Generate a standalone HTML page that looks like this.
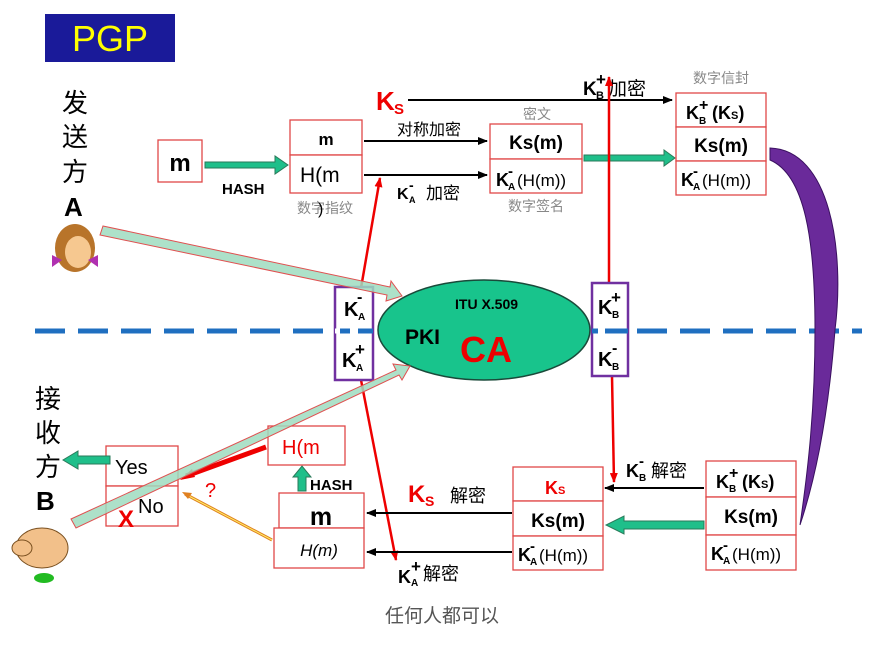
<!DOCTYPE html>
<html><head><meta charset="utf-8"><style>
html,body{margin:0;padding:0;background:#fff;width:870px;height:653px;overflow:hidden}
svg{display:block}
text{font-family:"Liberation Sans","Noto Sans CJK SC",sans-serif}
.b{font-weight:bold}
.bx{fill:#fff;stroke:#e04848;stroke-width:1.3}
.g{fill:#888}
</style></head><body>
<svg width="870" height="653" viewBox="0 0 870 653" xmlns="http://www.w3.org/2000/svg">
<defs>
<marker id="ab" markerWidth="10" markerHeight="8" refX="9" refY="4" orient="auto" markerUnits="userSpaceOnUse"><path d="M0,0L10,4L0,8z" fill="#000"/></marker>
<marker id="ar" markerWidth="10" markerHeight="8" refX="9" refY="4" orient="auto" markerUnits="userSpaceOnUse"><path d="M0,0L10,4L0,8z" fill="#e00"/></marker>
</defs>
<!-- PGP -->
<rect x="45" y="14" width="130" height="48" fill="#1a1a99"/>
<text x="110" y="51" font-size="36" fill="#ffff00" text-anchor="middle">PGP</text>
<!-- sender -->
<g font-size="26" fill="#000">
<text x="62" y="112">发</text><text x="62" y="146">送</text><text x="62" y="181">方</text>
<text x="64" y="216" class="b">A</text>
<text x="35" y="408">接</text><text x="35" y="442">收</text><text x="35" y="476">方</text>
<text x="36" y="510" class="b">B</text>
</g>
<!-- person A -->
<ellipse cx="75" cy="248" rx="20" ry="24" fill="#b8742a"/>
<ellipse cx="78" cy="252" rx="13" ry="16" fill="#f6c890"/>
<path d="M52,255l10,5l-10,7z M98,255l-10,5l10,7z" fill="#b030b0"/>
<!-- person B -->
<ellipse cx="42" cy="548" rx="26" ry="20" fill="#f2c08a" stroke="#7a5020"/>
<ellipse cx="22" cy="548" rx="10" ry="8" fill="#f2c08a" stroke="#7a5020"/>
<ellipse cx="44" cy="578" rx="10" ry="5" fill="#22bb22"/>
<!-- dashed line -->
<line x1="35" y1="331" x2="862" y2="331" stroke="#1f6fc0" stroke-width="5" stroke-dasharray="30,13"/>
<!-- top row -->
<rect class="bx" x="158" y="140" width="44" height="42"/>
<text x="180" y="171" font-size="24" class="b" text-anchor="middle">m</text>
<path d="M205,162h70v-6l13,9l-13,9v-6h-70z" fill="#1fbf8a" stroke="#2a7a5a"/>
<text x="222" y="194" font-size="15" class="b">HASH</text>
<rect class="bx" x="290" y="120" width="72" height="35"/>
<rect class="bx" x="290" y="155" width="72" height="38"/>
<text x="326" y="145" font-size="17" class="b" text-anchor="middle">m</text>
<text x="300" y="182" font-size="21">H(m</text>
<text x="297" y="213" font-size="14" class="g">数字指纹</text>
<text x="318" y="214" font-size="16">)</text>
<line x1="364" y1="141" x2="487" y2="141" stroke="#000" stroke-width="2" marker-end="url(#ab)"/>
<line x1="364" y1="175" x2="487" y2="175" stroke="#000" stroke-width="2" marker-end="url(#ab)"/>
<text x="397" y="135" font-size="16">对称加密</text>
<text x="397" y="199" font-size="16" class="b">K</text><text x="409" y="190" font-size="14" class="b">-</text><text x="409" y="203" font-size="9" class="b">A</text><text x="426" y="199" font-size="17">加密</text>
<text x="376" y="110" font-size="26" class="b" fill="#e00">K</text><text x="394" y="114" font-size="15" class="b" fill="#e00">S</text>
<line x1="408" y1="100" x2="672" y2="100" stroke="#000" stroke-width="2" marker-end="url(#ab)"/>
<text x="583" y="95" font-size="19" class="b">K</text><text x="596" y="85" font-size="17" class="b">+</text><text x="596" y="99" font-size="11" class="b">B</text><text x="608" y="95" font-size="19">加密</text>
<rect class="bx" x="490" y="124" width="92" height="35"/>
<rect class="bx" x="490" y="159" width="92" height="34"/>
<text x="536" y="149" font-size="19" class="b" text-anchor="middle">Ks(m)</text>
<text x="496" y="186" font-size="18" class="b">K</text><text x="508" y="176" font-size="15" class="b">-</text><text x="508" y="190" font-size="10" class="b">A</text><text x="517" y="186" font-size="17">(H(m))</text>
<text x="523" y="119" font-size="14" class="g">密文</text>
<text x="508" y="211" font-size="14" class="g">数字签名</text>
<path d="M584,155h80v-5l11,8l-11,8v-5h-80z" fill="#1fbf8a" stroke="#2a7a5a"/>
<text x="693" y="83" font-size="14" class="g">数字信封</text>
<rect class="bx" x="676" y="93" width="90" height="34"/>
<rect class="bx" x="676" y="127" width="90" height="34"/>
<rect class="bx" x="676" y="161" width="90" height="34"/>
<text x="686" y="119" font-size="18" class="b">K</text><text x="699" y="110" font-size="16" class="b">+</text><text x="699" y="124" font-size="10" class="b">B</text><text x="712" y="119" font-size="18" class="b">(K<tspan font-size="11">S</tspan>)</text>
<text x="721" y="152" font-size="19" class="b" text-anchor="middle">Ks(m)</text>
<text x="681" y="186" font-size="18" class="b">K</text><text x="693" y="176" font-size="15" class="b">-</text><text x="693" y="190" font-size="10" class="b">A</text><text x="702" y="186" font-size="17">(H(m))</text>
<!-- purple curve -->
<path d="M770,148 C830,150 845,250 835,330 C828,420 815,480 800,525 C808,470 815,410 815,330 C815,240 805,175 770,160z" fill="#6a2a9a" stroke="#3a1060"/>
<!-- red verticals -->
<line x1="609" y1="283" x2="609" y2="77" stroke="#e00" stroke-width="2.5" marker-end="url(#ar)"/>
<line x1="361" y1="288" x2="380" y2="178" stroke="#e00" stroke-width="2.5" marker-end="url(#ar)"/>
<line x1="361" y1="380" x2="396" y2="560" stroke="#e00" stroke-width="2.5" marker-end="url(#ar)"/>
<line x1="612" y1="376" x2="614" y2="482" stroke="#e00" stroke-width="2.5" marker-end="url(#ar)"/>
<!-- ellipse -->
<ellipse cx="484" cy="330" rx="106" ry="50" fill="#18c48c" stroke="#1a4a3a" stroke-width="1.5"/>
<text x="455" y="309" font-size="14" class="b">ITU X.509</text>
<text x="405" y="344" font-size="21" class="b">PKI</text>
<text x="460" y="362" font-size="36" class="b" fill="#e00">CA</text>
<!-- key boxes -->
<rect x="335" y="287" width="38" height="93" fill="#fff" stroke="#7030a0" stroke-width="2.5"/>
<rect x="592" y="283" width="36" height="93" fill="#fff" stroke="#7030a0" stroke-width="2.5"/>
<line x1="335" y1="331" x2="373" y2="331" stroke="#fff" stroke-width="5"/>
<line x1="340" y1="331" x2="350" y2="331" stroke="#1f6fc0" stroke-width="5"/>
<line x1="358" y1="331" x2="373" y2="331" stroke="#1f6fc0" stroke-width="5"/>
<line x1="592" y1="331" x2="598" y2="331" stroke="#1f6fc0" stroke-width="5"/>
<line x1="605" y1="331" x2="628" y2="331" stroke="#1f6fc0" stroke-width="5"/>
<text x="344" y="316" font-size="20" class="b">K</text><text x="357" y="302" font-size="16" class="b">-</text><text x="358" y="320" font-size="10" class="b">A</text>
<text x="342" y="367" font-size="20" class="b">K</text><text x="355" y="355" font-size="17" class="b">+</text><text x="356" y="371" font-size="10" class="b">A</text>
<text x="598" y="314" font-size="20" class="b">K</text><text x="611" y="303" font-size="17" class="b">+</text><text x="612" y="318" font-size="10" class="b">B</text>
<text x="598" y="366" font-size="20" class="b">K</text><text x="612" y="353" font-size="16" class="b">-</text><text x="612" y="370" font-size="10" class="b">B</text>
<!-- bottom right envelope -->
<rect class="bx" x="706" y="461" width="90" height="36"/>
<rect class="bx" x="706" y="497" width="90" height="38"/>
<rect class="bx" x="706" y="535" width="90" height="35"/>
<text x="716" y="488" font-size="18" class="b">K</text><text x="729" y="478" font-size="16" class="b">+</text><text x="729" y="492" font-size="10" class="b">B</text><text x="742" y="488" font-size="18" class="b">(K<tspan font-size="11">S</tspan>)</text>
<text x="751" y="523" font-size="19" class="b" text-anchor="middle">Ks(m)</text>
<text x="711" y="560" font-size="18" class="b">K</text><text x="723" y="550" font-size="15" class="b">-</text><text x="723" y="564" font-size="10" class="b">A</text><text x="732" y="560" font-size="17">(H(m))</text>
<text x="626" y="477" font-size="18" class="b">K</text><text x="639" y="466" font-size="15" class="b">-</text><text x="639" y="481" font-size="10" class="b">B</text><text x="651" y="477" font-size="18">解密</text>
<line x1="704" y1="488" x2="605" y2="488" stroke="#000" stroke-width="2" marker-end="url(#ab)"/>
<path d="M704,521h-80v-5l-18,9l18,9v-5h80z" fill="#1fbf8a" stroke="#2a7a5a"/>
<rect class="bx" x="513" y="467" width="90" height="34"/>
<rect class="bx" x="513" y="501" width="90" height="35"/>
<rect class="bx" x="513" y="536" width="90" height="34"/>
<text x="545" y="494" font-size="18" class="b" fill="#e00">K<tspan font-size="11">S</tspan></text>
<text x="558" y="527" font-size="19" class="b" text-anchor="middle">Ks(m)</text>
<text x="518" y="561" font-size="18" class="b">K</text><text x="530" y="551" font-size="15" class="b">-</text><text x="530" y="565" font-size="10" class="b">A</text><text x="539" y="561" font-size="17">(H(m))</text>
<line x1="512" y1="513" x2="367" y2="513" stroke="#000" stroke-width="2" marker-end="url(#ab)"/>
<line x1="512" y1="552" x2="367" y2="552" stroke="#000" stroke-width="2" marker-end="url(#ab)"/>
<text x="408" y="502" font-size="24" class="b" fill="#e00">K</text><text x="425" y="506" font-size="14" class="b" fill="#e00">S</text><text x="450" y="502" font-size="18">解密</text>
<text x="398" y="583" font-size="18" class="b">K</text><text x="411" y="572" font-size="17" class="b">+</text><text x="411" y="586" font-size="10" class="b">A</text><text x="423" y="580" font-size="18">解密</text>
<rect class="bx" x="279" y="493" width="85" height="35"/>
<rect class="bx" x="274" y="528" width="90" height="40"/>
<text x="321" y="525" font-size="25" class="b" text-anchor="middle">m</text>
<text x="319" y="556" font-size="17" font-style="italic" text-anchor="middle">H(m)</text>
<text x="310" y="490" font-size="15" class="b">HASH</text>
<path d="M298,491v-14h-5l9,-11l9,11h-5v14z" fill="#1fbf8a" stroke="#2a7a5a"/>
<rect class="bx" x="268" y="426" width="77" height="39"/>
<text x="282" y="454" font-size="20" fill="#e00">H(m</text>
<!-- yes/no -->
<rect class="bx" x="106" y="446" width="72" height="40"/>
<rect class="bx" x="106" y="486" width="72" height="40"/>
<text x="115" y="474" font-size="20">Yes</text>
<text x="138" y="513" font-size="20">No</text>
<text x="118" y="527" font-size="24" class="b" fill="#e00">X</text>
<path d="M110,456h-32v-5l-15,9l15,9v-5h32z" fill="#1fbf8a" stroke="#2a7a5a"/>
<path d="M266,447L186,476" stroke="#e00" stroke-width="5"/>
<path d="M180,480l12,-11l3,8z" fill="#e00"/>
<text x="205" y="497" font-size="20" fill="#e00">?</text>
<line x1="272" y1="540" x2="185" y2="494" stroke="#e08020" stroke-width="3"/>
<line x1="272" y1="540" x2="185" y2="494" stroke="#ffee66" stroke-width="1"/>
<path d="M182,492l10,1l-4,6z" fill="#e08020"/>
<!-- big translucent arrows -->
<path d="M103,226 L390,287 L391,281 L402,296 L386,301 L387,295 L100,235z" fill="#9fdcc0" fill-opacity="0.85" stroke="#e05050" stroke-width="1"/>
<path d="M71,519 L396,370 L393,364 L410,366 L402,380 L399,375 L76,528z" fill="#9fdcc0" fill-opacity="0.85" stroke="#e05050" stroke-width="1"/>
<text x="385" y="622" font-size="19" fill="#555">任何人都可以</text>
</svg>
</body></html>
